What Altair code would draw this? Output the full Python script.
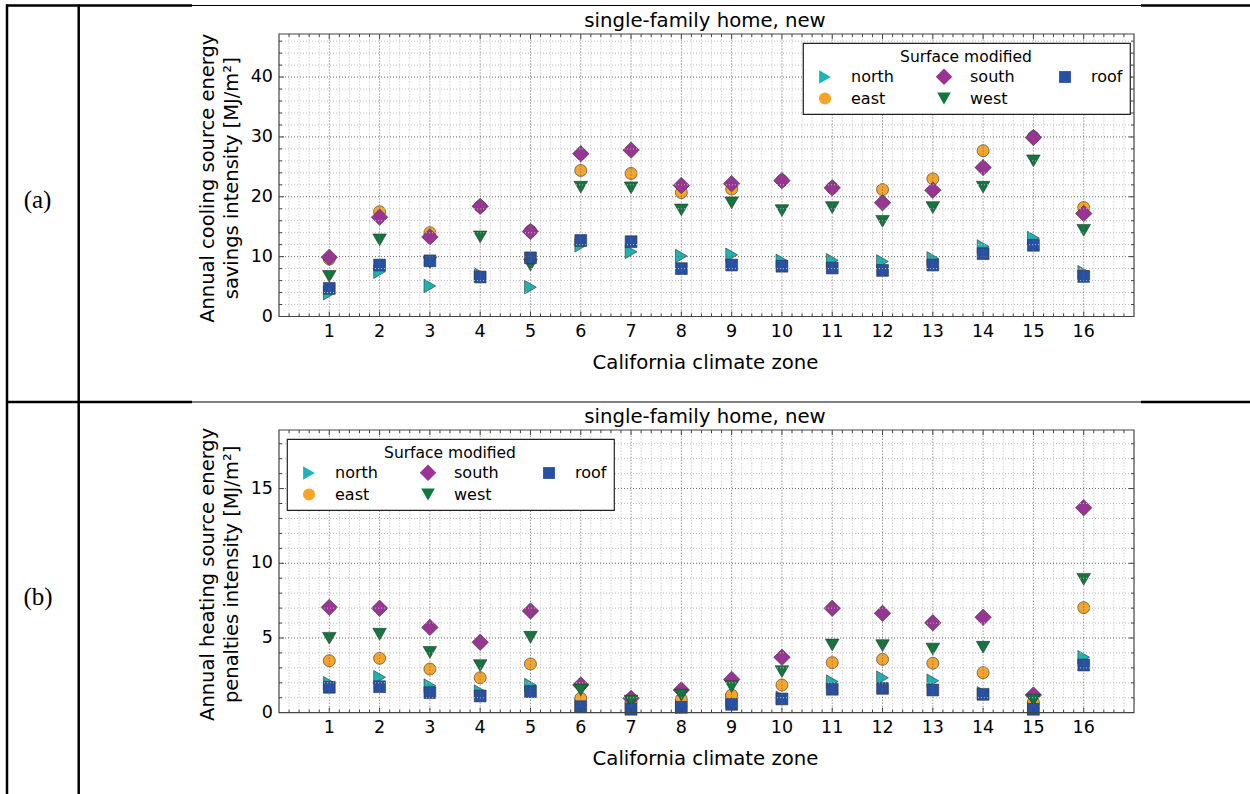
import altair as alt
import pandas as pd

# ---------------- data ----------------
zones = list(range(1, 17))
x_tick_labels = [str(z) for z in zones]

# (a) annual cooling source energy savings intensity [MJ/m2]
cool_north = [3.9, 7.5, 5.1, 7.0, 4.9, 11.9, 10.8, 10.1, 10.3, 9.3, 9.4, 9.2, 9.7, 11.7, 13.1, 7.4]
cool_east = [9.6, 17.5, 14.0, 18.4, 14.3, 24.4, 23.9, 20.7, 21.3, 22.7, 21.5, 21.2, 23.0, 27.7, 30.0, 18.2]
cool_south = [9.9, 16.6, 13.3, 18.4, 14.2, 27.2, 27.8, 21.9, 22.2, 22.7, 21.5, 19.0, 21.1, 24.9, 29.9, 17.2]
cool_west = [6.7, 12.8, 9.0, 13.3, 8.6, 21.6, 21.5, 17.8, 19.0, 17.7, 18.2, 15.9, 18.2, 21.6, 26.0, 14.4]
cool_roof = [4.7, 8.6, 9.3, 6.6, 9.8, 12.7, 12.5, 8.0, 8.6, 8.4, 8.1, 7.7, 8.6, 10.5, 11.9, 6.7]

# (b) annual heating source energy penalties intensity [MJ/m2]
heat_north = [1.97, 2.37, 1.81, 1.41, 1.85, 0.5, 0.3, 0.4, 0.8, 1.0, 2.08, 2.34, 2.14, 1.3, 0.3, 3.71]
heat_east = [3.48, 3.64, 2.92, 2.34, 3.26, 0.96, 0.7, 0.9, 1.18, 1.85, 3.35, 3.57, 3.31, 2.68, 0.7, 7.03]
heat_south = [7.05, 6.99, 5.71, 4.71, 6.81, 1.85, 0.96, 1.52, 2.23, 3.71, 6.99, 6.65, 6.02, 6.39, 1.18, 13.72]
heat_west = [4.98, 5.25, 4.04, 3.15, 5.05, 1.52, 0.78, 1.18, 1.74, 2.75, 4.53, 4.49, 4.26, 4.38, 0.85, 8.93]
heat_roof = [1.70, 1.74, 1.34, 1.12, 1.41, 0.40, 0.23, 0.36, 0.56, 0.92, 1.57, 1.63, 1.52, 1.23, 0.23, 3.19]

draw_order = ["north", "east", "south", "west", "roof"]
# legend fills column by column: (north, east) (south, west) (roof)
legend_order = ["north", "east", "south", "west", "roof"]
surface_colors = {"north": "#1db4b8", "south": "#9b3396", "roof": "#2550a3",
                  "east": "#f7a428", "west": "#0f773b"}
surface_shapes = {"north": "triangle-right", "south": "diamond", "roof": "square",
                  "east": "circle", "west": "triangle-down"}
surface_sizes = {"north": 185, "south": 270, "roof": 140, "east": 145, "west": 185}

FONT = "DejaVu Sans"
SERIF = "Liberation Serif"
dummy = pd.DataFrame({"d": [0]})


def long_df(series):
    rows = []
    for s in draw_order:
        for z, v in zip(zones, series[s]):
            rows.append({"zone": z, "value": v, "surface": s})
    return pd.DataFrame(rows)


cool_df = long_df({"north": cool_north, "east": cool_east, "south": cool_south,
                   "west": cool_west, "roof": cool_roof})
heat_df = long_df({"north": heat_north, "east": heat_east, "south": heat_south,
                   "west": heat_west, "roof": heat_roof})


def panel(df, ymax, ybot, ytop, major, minor, title, ylab1, ylab2, legx, legy):
    xs = alt.Scale(domain=[0, 17], range=[279, 1134], nice=False, zero=False)
    ys = alt.Scale(domain=[0, ymax], range=[ybot, ytop], nice=False, zero=False)

    def X(f):
        return alt.X(f, type="quantitative", scale=xs, axis=None)

    def Y(f):
        return alt.Y(f, type="quantitative", scale=ys, axis=None)

    x_minor = [round(0.2 * i, 1) for i in range(1, 85) if i % 5 != 0]
    x_major = zones
    y_minor = [minor * i for i in range(1, int(ymax / minor) + 1) if (minor * i) % major != 0]
    y_major = [major * i for i in range(1, int(ymax / major) + 1)]
    y_labels = [0] + y_major

    layers = []

    leg = alt.Legend(
        title="Surface modified", orient="none", legendX=legx, legendY=legy,
        columns=3, fillColor="white", strokeColor="#222",
        padding=7, titleAnchor="middle", titleFont=FONT, titleFontSize=15.5,
        titleFontWeight="normal", titleColor="black", titlePadding=2,
        labelFont=FONT, labelFontSize=16, labelColor="black", labelOffset=17,
        columnPadding=35, rowPadding=4, symbolStrokeColor="#333", symbolOffset=6,
        symbolStrokeWidth=0.6, symbolOpacity=1, offset=0,
    )
    pts = alt.Chart(df).mark_point(filled=True, opacity=1, stroke="#333",
                                   strokeWidth=0.6).encode(
        x=X("zone"), y=Y("value"),
        color=alt.Color("surface:N", scale=alt.Scale(domain=legend_order,
                        range=[surface_colors[s] for s in legend_order]), legend=leg),
        shape=alt.Shape("surface:N", scale=alt.Scale(domain=legend_order,
                        range=[surface_shapes[s] for s in legend_order]), legend=leg),
        size=alt.Size("surface:N", scale=alt.Scale(type="ordinal", domain=legend_order,
                      range=[surface_sizes[s] for s in legend_order]), legend=leg),
    )
    layers.append(pts)

    # grid (drawn over markers, as in the reference)
    def vgrid(vals, color):
        g = pd.DataFrame({"x": vals, "y0": 0.0, "y1": float(ymax)})
        return alt.Chart(g).mark_rule(color=color, strokeWidth=1, strokeDash=[1, 2]).encode(
            x=X("x"), y=Y("y0"), y2="y1")

    def hgrid(vals, color):
        g = pd.DataFrame({"y": vals, "x0": 0.0, "x1": 17.0})
        return alt.Chart(g).mark_rule(color=color, strokeWidth=1, strokeDash=[1, 2]).encode(
            y=Y("y"), x=X("x0"), x2="x1")

    layers += [vgrid(x_minor, "#bdbdbd"), hgrid(y_minor, "#bdbdbd"),
               vgrid(x_major, "#666666"), hgrid(y_major, "#666666")]

    # frame
    fr = pd.DataFrame({"x0": [0.0], "x1": [17.0], "y0": [0.0], "y1": [float(ymax)]})
    layers.append(alt.Chart(fr).mark_rect(fillOpacity=0, stroke="#444", strokeWidth=1.2).encode(
        x=X("x0"), x2="x1", y=Y("y0"), y2="y1"))

    # inward ticks on all four sides
    def xticks(vals, length):
        t = pd.DataFrame({"x": vals, "yb": 0.0, "yt": float(ymax)})
        b = alt.Chart(t).mark_rule(color="#444", y2Offset=-length).encode(x=X("x"), y=Y("yb"), y2="yb")
        tp = alt.Chart(t).mark_rule(color="#444", y2Offset=length).encode(x=X("x"), y=Y("yt"), y2="yt")
        return [b, tp]

    def yticks(vals, length):
        t = pd.DataFrame({"y": vals, "xl": 0.0, "xr": 17.0})
        lft = alt.Chart(t).mark_rule(color="#444", x2Offset=length).encode(y=Y("y"), x=X("xl"), x2="xl")
        rgt = alt.Chart(t).mark_rule(color="#444", x2Offset=-length).encode(y=Y("y"), x=X("xr"), x2="xr")
        return [lft, rgt]

    layers += xticks(x_minor, 3) + xticks(x_major, 5) + yticks(y_minor, 3) + yticks(y_major, 5)

    # tick labels
    xl = pd.DataFrame({"x": x_major, "y": 0.0, "t": x_tick_labels})
    layers.append(alt.Chart(xl).mark_text(baseline="top", dy=6, fontSize=17.5, font=FONT,
                                          color="black").encode(x=X("x"), y=Y("y"), text="t:N"))
    yl = pd.DataFrame({"y": y_labels, "x": 0.0, "t": [str(v) for v in y_labels]})
    layers.append(alt.Chart(yl).mark_text(align="right", baseline="middle", dx=-6, fontSize=17.5,
                                          font=FONT, color="black").encode(x=X("x"), y=Y("y"), text="t:N"))

    # titles
    layers.append(alt.Chart(dummy).mark_text(text=title, fontSize=19.7, font=FONT, color="black",
                                             baseline="alphabetic", align="center").encode(
        x=alt.value(705), y=alt.value(ytop - 7)))
    layers.append(alt.Chart(dummy).mark_text(text="California climate zone", fontSize=19.7, font=FONT,
                                             color="black", baseline="middle", align="center").encode(
        x=alt.value(705.5), y=alt.value(ybot + 46)))
    ymid = (ybot + ytop) / 2 + 3
    layers.append(alt.Chart(dummy).mark_text(text=ylab1, fontSize=19.5, font=FONT, color="black",
                                             angle=270, baseline="middle", align="center").encode(
        x=alt.value(208), y=alt.value(ymid)))
    layers.append(alt.Chart(dummy).mark_text(text=ylab2, fontSize=19.5, font=FONT, color="black",
                                             angle=270, baseline="middle", align="center").encode(
        x=alt.value(232), y=alt.value(ymid)))
    return alt.layer(*layers)


pa = panel(cool_df, 47.2, 316.5, 34, 10, 2, "single-family home, new",
           "Annual cooling source energy", "savings intensity [MJ/m\u00b2]", 803, 43)
pb = panel(heat_df, 18.92, 712.7, 430, 5, 1, "single-family home, new",
           "Annual heating source energy", "penalties intensity [MJ/m\u00b2]", 287, 439)


# ---------------- table decoration ----------------
def hline(x1, x2, y, w):
    return alt.Chart(dummy).mark_rule(color="black", strokeWidth=w).encode(
        x=alt.value(x1), x2=alt.value(x2), y=alt.value(y))


def vline(x, y1, y2, w):
    return alt.Chart(dummy).mark_rule(color="black", strokeWidth=w).encode(
        x=alt.value(x), y=alt.value(y1), y2=alt.value(y2))


deco = [
    hline(6, 192, 5.5, 2.5), hline(192, 1141, 5.5, 1), hline(1141, 1250, 5.5, 2.5),
    hline(6, 192, 402, 2.5), hline(192, 1141, 402, 1), hline(1141, 1250, 402, 2.5),
    vline(7, 4.5, 794, 2.5), vline(78.7, 4.5, 794, 2.5),
    alt.Chart(dummy).mark_text(text="(a)", font=SERIF, fontSize=25, color="black",
                               align="center", baseline="middle").encode(
        x=alt.value(37.5), y=alt.value(200)),
    alt.Chart(dummy).mark_text(text="(b)", font=SERIF, fontSize=25, color="black",
                               align="center", baseline="middle").encode(
        x=alt.value(38), y=alt.value(597)),
]

chart = alt.layer(*deco, pa, pb).resolve_scale(
    y="independent", color="independent", shape="independent", size="independent"
).properties(
    width=1250, height=794, autosize=alt.AutoSizeParams(type="none"), padding=0,
    background="white",
).configure_view(stroke=None).configure_legend(strokeWidth=1.2)

chart.save("out.html", embed_options={"renderer": "svg", "actions": False})
